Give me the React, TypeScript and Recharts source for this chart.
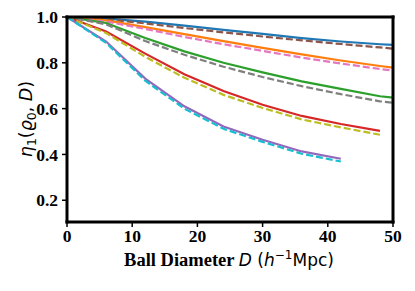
import React from "react";
import { LineChart, Line, XAxis, YAxis, ReferenceLine } from "recharts";

const diameters = [0, 6, 12, 18, 24, 30, 36, 42, 48, 50];

const blueSolid = [1.0, 0.993, 0.98, 0.962, 0.944, 0.926, 0.908, 0.893, 0.881, 0.878];
const brownDashed = [1.0, 0.99, 0.972, 0.952, 0.933, 0.915, 0.898, 0.882, 0.867, 0.862];
const orangeSolid = [1.0, 0.985, 0.956, 0.925, 0.895, 0.865, 0.837, 0.81, 0.786, 0.779];
const pinkDashed = [1.0, 0.98, 0.948, 0.913, 0.881, 0.852, 0.823, 0.797, 0.773, 0.766];
const greenSolid = [1.0, 0.974, 0.908, 0.85, 0.8, 0.758, 0.719, 0.686, 0.654, 0.648];
const grayDashed = [1.0, 0.968, 0.895, 0.835, 0.783, 0.738, 0.698, 0.663, 0.632, 0.626];
const redSolid = [1.0, 0.937, 0.84, 0.75, 0.677, 0.617, 0.568, 0.533, 0.503, null];
const oliveDashed = [1.0, 0.93, 0.826, 0.735, 0.66, 0.603, 0.553, 0.518, 0.486, null];
const purpleSolid = [1.0, 0.893, 0.731, 0.61, 0.522, 0.464, 0.413, 0.381, null, null];
const cyanDashed = [1.0, 0.887, 0.722, 0.6, 0.512, 0.455, 0.403, 0.369, null, null];

const xTicks = [0, 10, 20, 30, 40, 50];
const yTicks = [0.2, 0.4, 0.6, 0.8, 1.0];

const data = diameters.map((d, i) => ({
  d,
  blue: blueSolid[i],
  brown: brownDashed[i],
  orange: orangeSolid[i],
  pink: pinkDashed[i],
  green: greenSolid[i],
  gray: grayDashed[i],
  red: redSolid[i],
  olive: oliveDashed[i],
  purple: purpleSolid[i],
  cyan: cyanDashed[i],
}));

const series = [
  { key: "blue", color: "#1f77b4", dashed: false },
  { key: "brown", color: "#8c564b", dashed: true },
  { key: "orange", color: "#ff7f0e", dashed: false },
  { key: "pink", color: "#e377c2", dashed: true },
  { key: "green", color: "#2ca02c", dashed: false },
  { key: "gray", color: "#7f7f7f", dashed: true },
  { key: "red", color: "#d62728", dashed: false },
  { key: "olive", color: "#bcbd22", dashed: true },
  { key: "purple", color: "#9467bd", dashed: false },
  { key: "cyan", color: "#17becf", dashed: true },
];

const serif = "'Liberation Serif', 'Times New Roman', serif";
const sans = "'DejaVu Sans', sans-serif";

const XLabel = () => (
  <text x={229} y={266} textAnchor="middle" fill="#000">
    <tspan fontFamily={serif} fontWeight="bold" fontSize={18.5}>Ball Diameter </tspan>
    <tspan fontFamily={sans} fontStyle="italic" fontSize={17}>D</tspan>
    <tspan fontFamily={sans} fontSize={17}> (</tspan>
    <tspan fontFamily={sans} fontStyle="italic" fontSize={17}>h</tspan>
    <tspan fontFamily={sans} fontSize={12} dy={-7}>−1</tspan>
    <tspan fontFamily={sans} fontSize={17} dy={7}>Mpc)</tspan>
  </text>
);

const YLabel = () => (
  <text
    x={0}
    y={0}
    transform="translate(32,119) rotate(-90)"
    textAnchor="middle"
    fill="#000"
    fontFamily={sans}
    fontSize={17.5}
  >
    <tspan fontStyle="italic">η</tspan>
    <tspan fontSize={12.5} dy={4}>1</tspan>
    <tspan dy={-4}>(</tspan>
    <tspan fontStyle="italic">ϱ</tspan>
    <tspan fontSize={12.5} dy={4}>0</tspan>
    <tspan dy={-4}>, </tspan>
    <tspan fontStyle="italic">D</tspan>
    <tspan>)</tspan>
  </text>
);

const frameStyle = { stroke: "#000", strokeWidth: 3, strokeLinecap: "square" as const };

export default function App() {
  return (
    <div style={{ position: "absolute", left: 0, top: 0 }}>
      <LineChart
        width={415}
        height={291}
        data={data}
        margin={{ top: 17, right: 22, bottom: 0, left: 0 }}
      >
        <XAxis
          dataKey="d"
          type="number"
          domain={[0, 50]}
          ticks={xTicks}
          height={69}
          axisLine={false}
          tickLine={{ stroke: "#000", strokeWidth: 1.5 }}
          tickSize={5}
          tickMargin={3}
          tick={{ fill: "#000", fontSize: 17.5, fontWeight: "bold", fontFamily: serif }}
          label={<XLabel />}
        />
        <YAxis
          type="number"
          domain={[0.105, 1.0]}
          ticks={yTicks}
          width={67}
          axisLine={false}
          tickLine={{ stroke: "#000", strokeWidth: 1.5 }}
          tickSize={5}
          tickMargin={4}
          tickFormatter={(v: number) => v.toFixed(1)}
          tick={{ fill: "#000", fontSize: 17.5, fontWeight: "bold", fontFamily: serif }}
          label={<YLabel />}
        />
        {series.map((s) => (
          <Line
            key={s.key}
            dataKey={s.key}
            stroke={s.color}
            strokeWidth={2.2}
            strokeDasharray={s.dashed ? "7 3" : undefined}
            dot={false}
            activeDot={false}
            isAnimationActive={false}
            type="linear"
          />
        ))}
        <ReferenceLine x={0} ifOverflow="visible" {...frameStyle} />
        <ReferenceLine x={50} ifOverflow="visible" {...frameStyle} />
        <ReferenceLine y={0.105} ifOverflow="visible" {...frameStyle} />
        <ReferenceLine y={1.0} ifOverflow="visible" {...frameStyle} />
      </LineChart>
    </div>
  );
}
